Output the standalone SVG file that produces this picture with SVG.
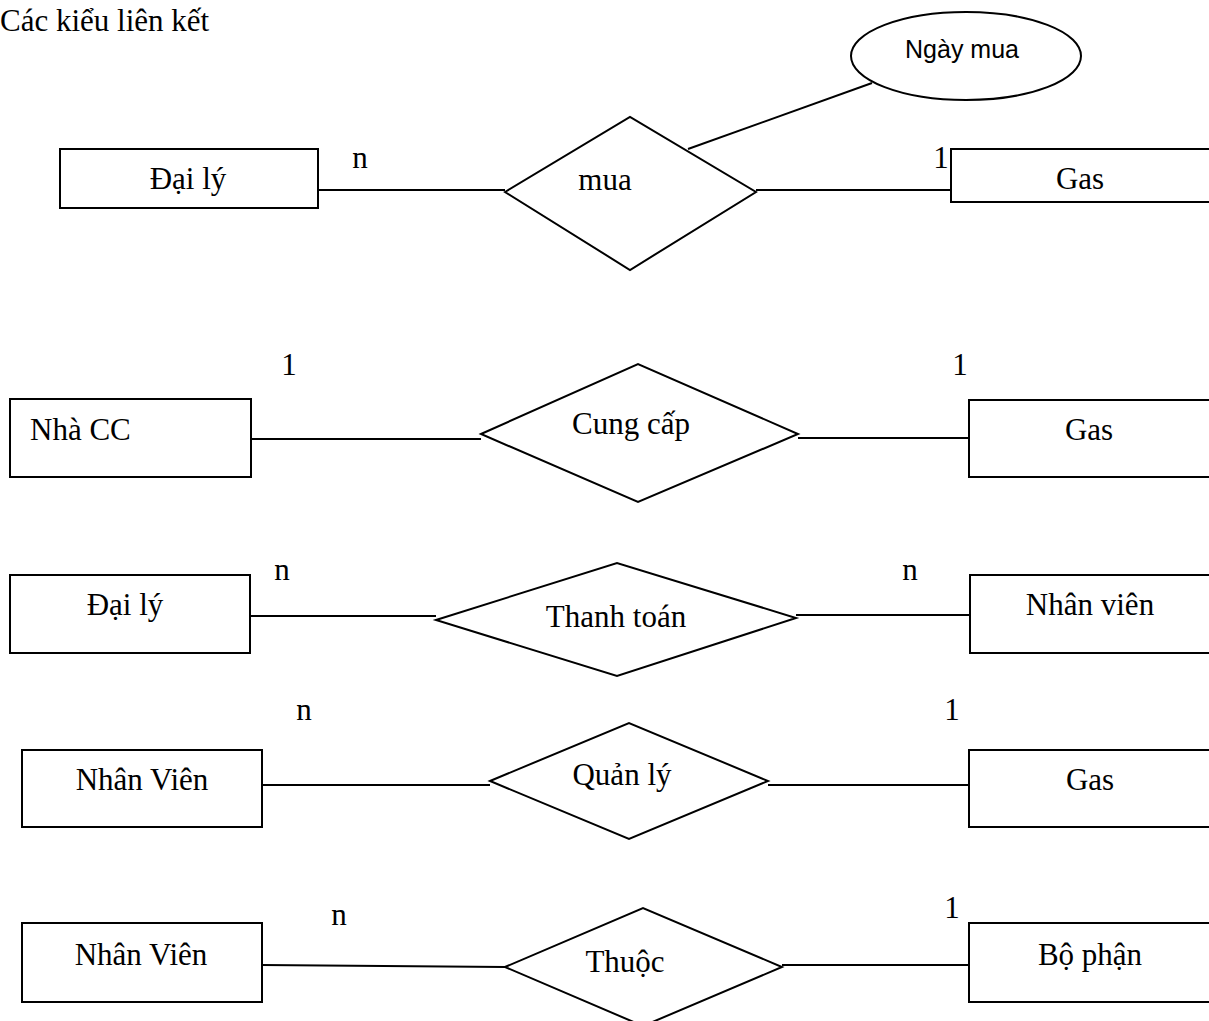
<svg xmlns="http://www.w3.org/2000/svg" width="1209" height="1021" viewBox="0 0 1209 1021">
<style>
.box{fill:#fff;stroke:#000;stroke-width:2}
.rel{fill:#fff;stroke:#000;stroke-width:2;stroke-linejoin:miter}
.attr{fill:#fff;stroke:#000;stroke-width:2}
.ln{stroke:#000;stroke-width:2;fill:none}
.t{font-family:"Liberation Serif","Times New Roman",serif;font-size:31px;fill:#000}
.c{text-anchor:middle}
.s{font-family:"Liberation Sans",Arial,sans-serif;font-size:25px;fill:#000;text-anchor:middle}
</style>
<rect width="1209" height="1021" fill="#fff"/>
<text class="t" x="0" y="31">Các kiểu liên kết</text>

<g id="connectors">
<line class="ln" x1="318" y1="190" x2="505" y2="190"/>
<line class="ln" x1="756" y1="190" x2="951" y2="190"/>
<line class="ln" x1="688" y1="149" x2="872" y2="83"/>
<line class="ln" x1="251" y1="439" x2="481" y2="439"/>
<line class="ln" x1="798" y1="438" x2="969" y2="438"/>
<line class="ln" x1="251" y1="616" x2="436" y2="616"/>
<line class="ln" x1="796" y1="615" x2="970" y2="615"/>
<line class="ln" x1="262" y1="785" x2="490" y2="785"/>
<line class="ln" x1="768" y1="785" x2="969" y2="785"/>
<line class="ln" x1="262" y1="965" x2="505" y2="967"/>
<line class="ln" x1="782" y1="965" x2="969" y2="965"/>
</g>

<g id="labels">
<text class="t c" x="360" y="168">n</text>
<text class="t c" x="941" y="168">1</text>
<text class="t c" x="289" y="375">1</text>
<text class="t c" x="960" y="375">1</text>
<text class="t c" x="282" y="580">n</text>
<text class="t c" x="910" y="580">n</text>
<text class="t c" x="304" y="720">n</text>
<text class="t c" x="952" y="720">1</text>
<text class="t c" x="339" y="925">n</text>
<text class="t c" x="952" y="918">1</text>
</g>

<g id="e_daily1"><rect class="box" x="60" y="149" width="258" height="59"/><text class="t c" x="188" y="189">Đại lý</text></g>
<g id="r_mua"><polygon class="rel" points="505,192 630,117 756,192 630,270"/><text class="t c" x="605" y="190">mua</text></g>
<g id="a_ngaymua"><ellipse class="attr" cx="966" cy="56" rx="115" ry="44"/><text class="s" x="962" y="58">Ngày mua</text></g>
<g id="e_gas1"><rect class="box" x="951" y="149" width="270" height="53"/><text class="t c" x="1080" y="189">Gas</text></g>

<g id="e_nhacc"><rect class="box" x="10" y="399" width="241" height="78"/><text class="t" x="30" y="440">Nhà CC</text></g>
<g id="r_cungcap"><polygon class="rel" points="481,434 638,364 798,434 638,502"/><text class="t c" x="631" y="434">Cung cấp</text></g>
<g id="e_gas2"><rect class="box" x="969" y="400" width="260" height="77"/><text class="t c" x="1089" y="440">Gas</text></g>

<g id="e_daily2"><rect class="box" x="10" y="575" width="240" height="78"/><text class="t c" x="125" y="615">Đại lý</text></g>
<g id="r_thanhtoan"><polygon class="rel" points="436,620 617,563 796,618 617,676"/><text class="t c" x="616" y="627">Thanh toán</text></g>
<g id="e_nhanvien1"><rect class="box" x="970" y="575" width="260" height="78"/><text class="t c" x="1090" y="615">Nhân viên</text></g>

<g id="e_nhanvien2"><rect class="box" x="22" y="750" width="240" height="77"/><text class="t c" x="142" y="790">Nhân Viên</text></g>
<g id="r_quanly"><polygon class="rel" points="490,781 629,723 768,781 629,839"/><text class="t c" x="622" y="785">Quản lý</text></g>
<g id="e_gas3"><rect class="box" x="969" y="750" width="260" height="77"/><text class="t c" x="1090" y="790">Gas</text></g>

<g id="e_nhanvien3"><rect class="box" x="22" y="923" width="240" height="79"/><text class="t c" x="141" y="965">Nhân Viên</text></g>
<g id="r_thuoc"><polygon class="rel" points="505,967 643,908 782,967 643,1026"/><text class="t c" x="625" y="972">Thuộc</text></g>
<g id="e_bophan"><rect class="box" x="969" y="923" width="260" height="79"/><text class="t c" x="1090" y="965">Bộ phận</text></g>
</svg>
